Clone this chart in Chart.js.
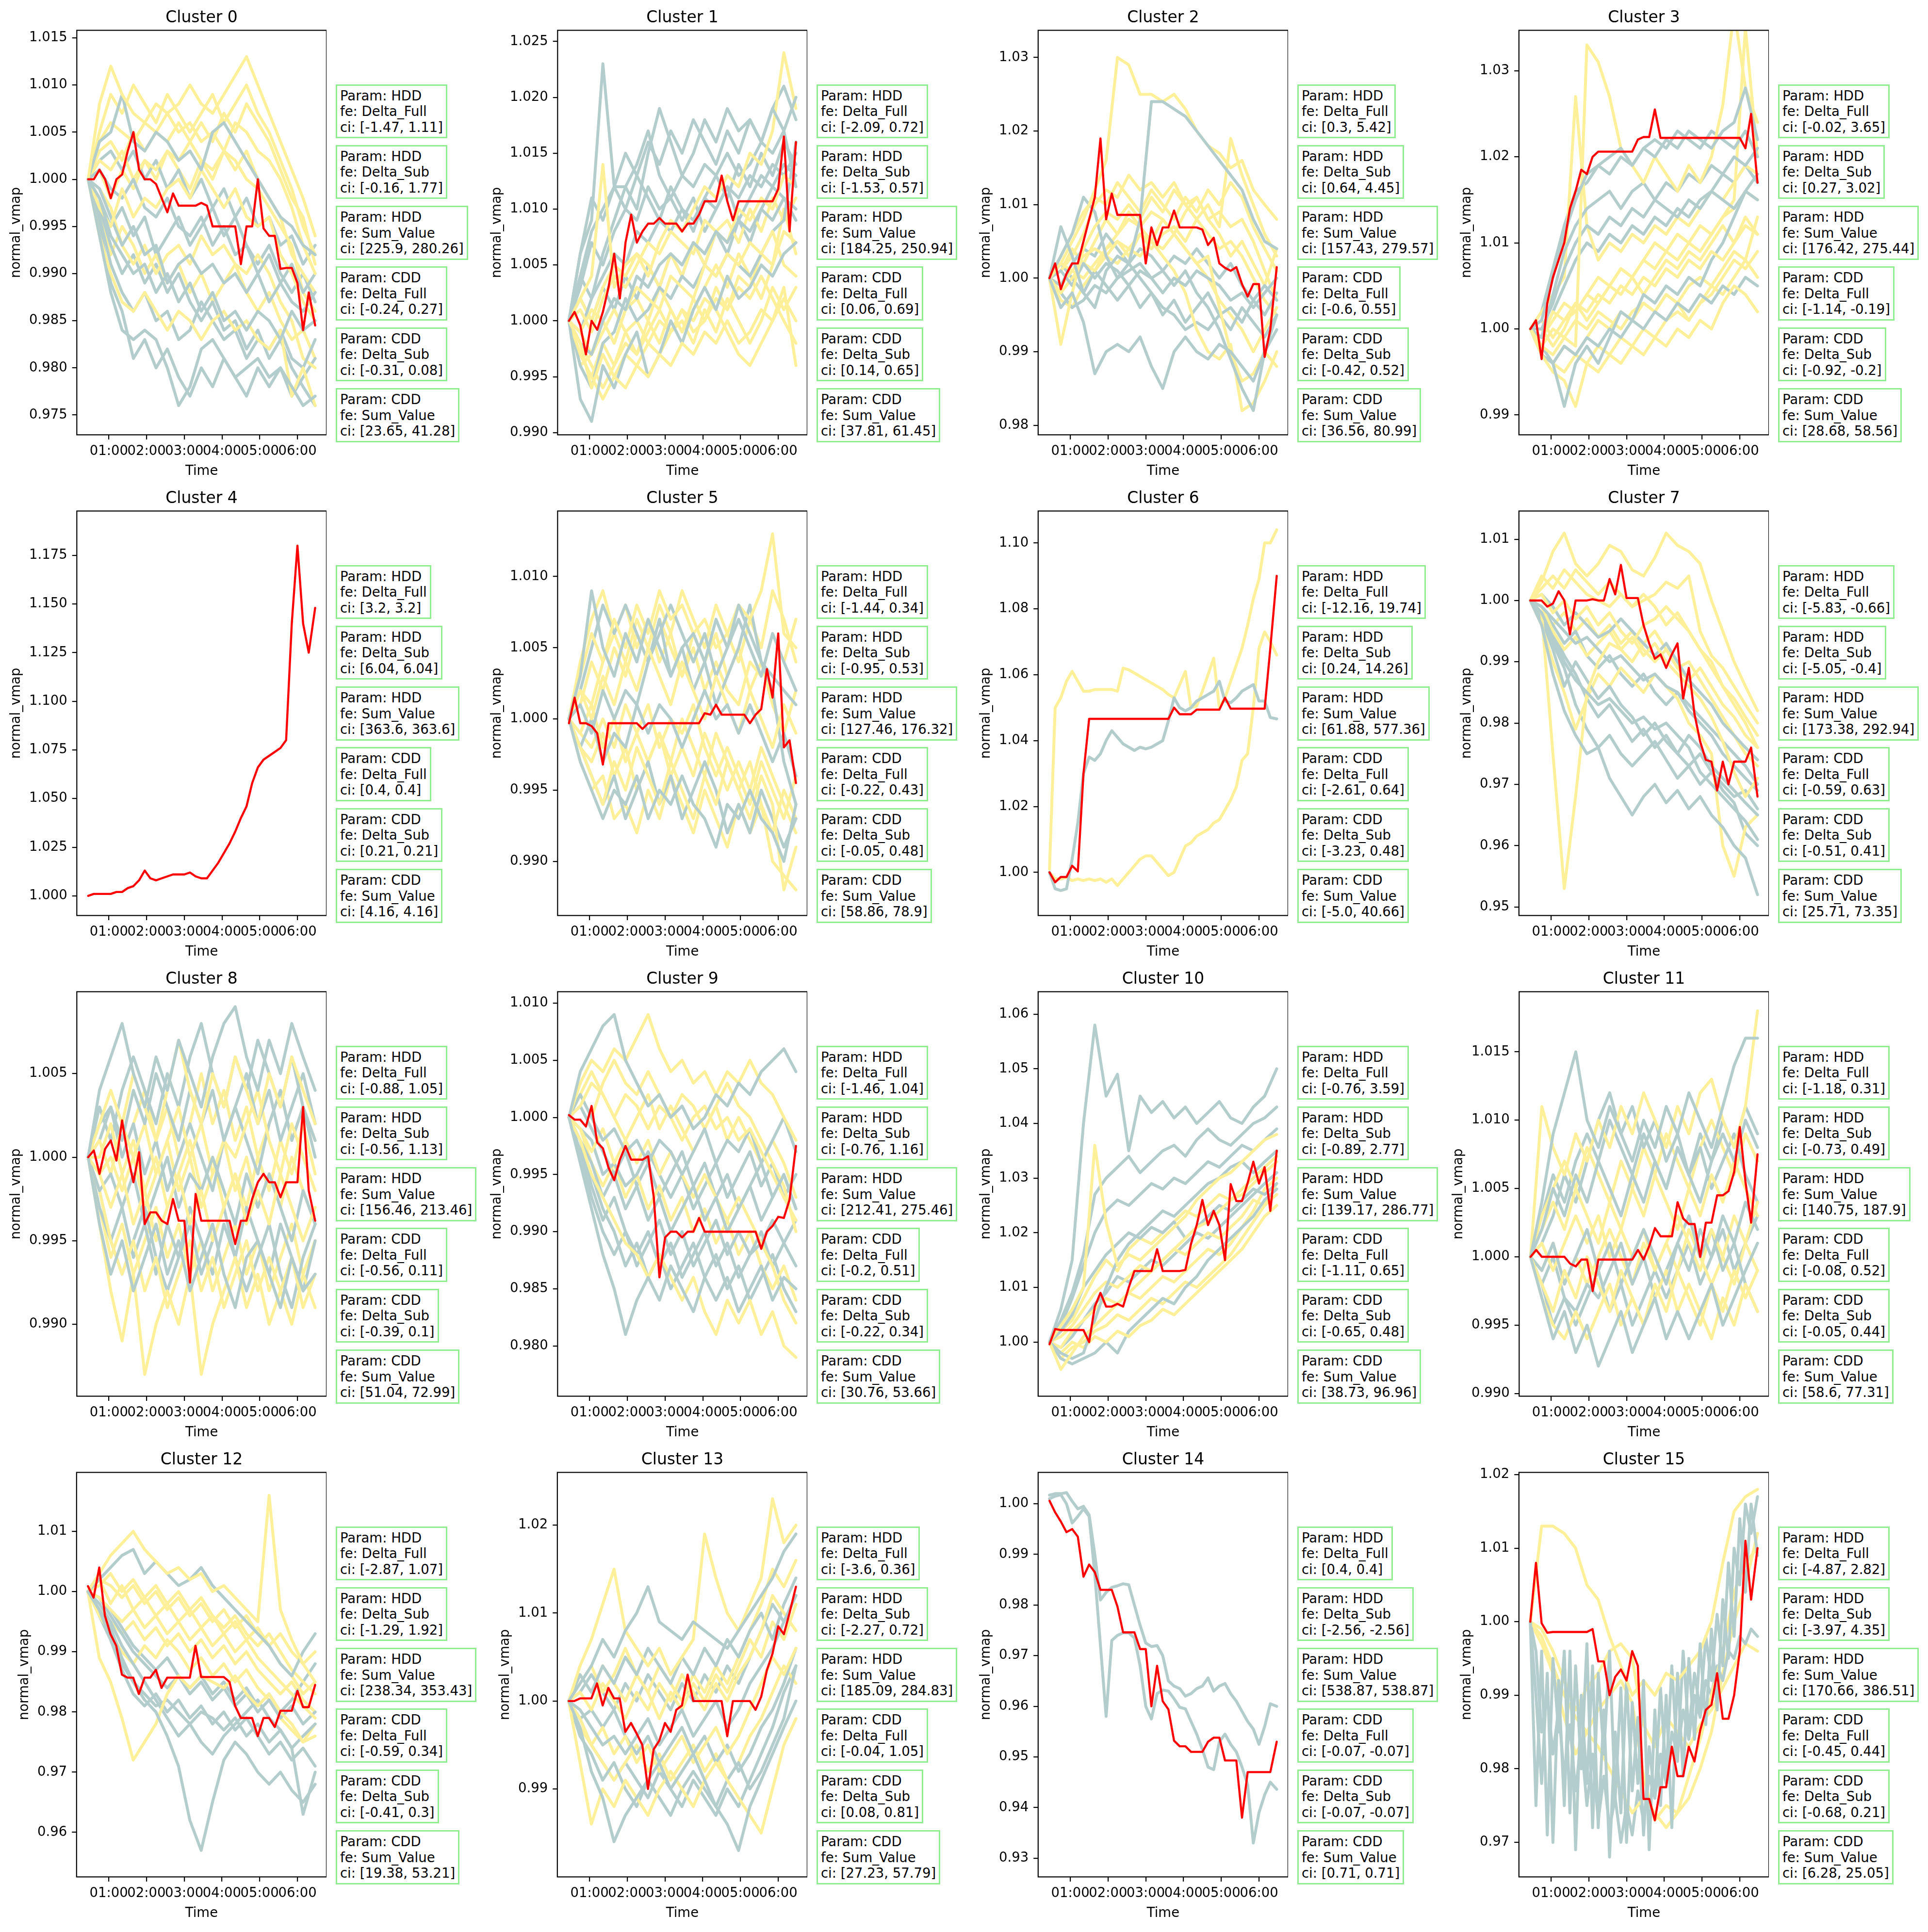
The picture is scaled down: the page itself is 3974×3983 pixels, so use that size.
<!DOCTYPE html>
<html lang="en">
<head>
<meta charset="UTF-8">
<title>normal_vmap by cluster</title>
<script src="https://cdn.jsdelivr.net/npm/chart.js"></script>
<style>
  body { margin: 0; background: #fff; }
  #fig { position: relative; width: 3974px; height: 3983px; overflow: hidden; background: #fff; font-family: 'DejaVu Sans', sans-serif; color: #000; }
  #fig canvas { position: absolute; }
  .ttl { position: absolute; height: 40px; line-height: 40px; font-size: 33px; text-align: center; white-space: nowrap; }
  .box { position: absolute; border: 3px solid #90ee90; padding: 4px 6px; font-size: 27.5px; line-height: 32.5px; white-space: pre; background: #fff; }
</style>
</head>
<body>
<div id="fig"></div>
<script>
// sample times (hours after midnight)
const tBg = [0.45, 0.75, 1.05, 1.35, 1.65, 1.95, 2.25, 2.55, 2.85, 3.15, 3.45, 3.75, 4.05, 4.35, 4.65, 4.95, 5.25, 5.55, 5.85, 6.15, 6.47];
const tRed = [0.45, 0.60, 0.75, 0.90, 1.05, 1.20, 1.35, 1.50, 1.65, 1.80, 1.95, 2.10, 2.25, 2.40, 2.55, 2.70, 2.85, 3.00, 3.15, 3.30,
  3.45, 3.60, 3.75, 3.90, 4.05, 4.20, 4.35, 4.50, 4.65, 4.80, 4.95, 5.10, 5.25, 5.40, 5.55, 5.70, 5.85, 6.00, 6.15, 6.30, 6.47];
const xTickVals = [1, 2, 3, 4, 5, 6];
const xTickLabels = ['01:00', '02:00', '03:00', '04:00', '05:00', '06:00'];

const yTicks = [
  ['0.975', '0.980', '0.985', '0.990', '0.995', '1.000', '1.005', '1.010', '1.015'],
  ['0.990', '0.995', '1.000', '1.005', '1.010', '1.015', '1.020', '1.025'],
  ['0.98', '0.99', '1.00', '1.01', '1.02', '1.03'],
  ['0.99', '1.00', '1.01', '1.02', '1.03'],
  ['1.000', '1.025', '1.050', '1.075', '1.100', '1.125', '1.150', '1.175'],
  ['0.990', '0.995', '1.000', '1.005', '1.010'],
  ['1.00', '1.02', '1.04', '1.06', '1.08', '1.10'],
  ['0.95', '0.96', '0.97', '0.98', '0.99', '1.00', '1.01'],
  ['0.990', '0.995', '1.000', '1.005'],
  ['0.980', '0.985', '0.990', '0.995', '1.000', '1.005', '1.010'],
  ['1.00', '1.01', '1.02', '1.03', '1.04', '1.05', '1.06'],
  ['0.990', '0.995', '1.000', '1.005', '1.010', '1.015'],
  ['0.96', '0.97', '0.98', '0.99', '1.00', '1.01'],
  ['0.99', '1.00', '1.01', '1.02'],
  ['0.93', '0.94', '0.95', '0.96', '0.97', '0.98', '0.99', '1.00'],
  ['0.97', '0.98', '0.99', '1.00', '1.01', '1.02']
];
const yMin = [0.9729, 0.9898, 0.9787, 0.9877, 0.9899, 0.9862, 0.9869, 0.9486, 0.9857, 0.9756, 0.9901, 0.9898, 0.9526, 0.9800, 0.9263, 0.9653];
const yMax = [1.0158, 1.0260, 1.0337, 1.0347, 1.1978, 1.0146, 1.1097, 1.0146, 1.0099, 1.0110, 1.0641, 1.0194, 1.0198, 1.0260, 1.0062, 1.0203];

// cluster 0
const red0 = [1.000, 1.000, 1.001, 1.000, 0.998, 1.000, 1.0005, 1.003, 1.005, 1.001, 1.000, 1.000, 0.9995, 0.998, 0.9965, 0.9985, 0.9972, 0.9972, 0.9972, 0.9972,
  0.9975, 0.9972, 0.995, 0.995, 0.995, 0.995, 0.995, 0.991, 0.995, 0.995, 1.000, 0.9948, 0.994, 0.994, 0.9905, 0.9906, 0.9906, 0.989, 0.984, 0.988, 0.9845];
const grey0 = [
  [1.000, 0.994, 0.988, 0.984, 0.983, 0.984, 0.983, 0.980, 0.976, 0.978, 0.982, 0.983, 0.981, 0.979, 0.980, 0.981, 0.979, 0.980, 0.978, 0.976, 0.977],
  [1.000, 1.004, 1.005, 1.009, 1.004, 1.003, 1.005, 1.004, 1.002, 1.003, 1.001, 1.005, 1.006, 1.004, 1.002, 1.000, 0.998, 0.996, 0.995, 0.993, 0.992],
  [1.000, 0.998, 0.994, 0.992, 0.990, 0.991, 0.988, 0.990, 0.987, 0.989, 0.986, 0.988, 0.985, 0.986, 0.984, 0.986, 0.985, 0.983, 0.986, 0.984, 0.985],
  [1.000, 1.001, 0.999, 0.998, 1.000, 0.997, 0.996, 0.998, 0.995, 0.994, 0.996, 0.993, 0.995, 0.992, 0.993, 0.990, 0.992, 0.989, 0.991, 0.988, 0.990],
  [1.000, 0.996, 0.991, 0.988, 0.986, 0.988, 0.985, 0.986, 0.983, 0.984, 0.987, 0.985, 0.983, 0.984, 0.981, 0.983, 0.982, 0.984, 0.981, 0.980, 0.983],
  [1.000, 0.999, 0.996, 0.993, 0.995, 0.992, 0.993, 0.989, 0.991, 0.992, 0.990, 0.991, 0.989, 0.990, 0.988, 0.990, 0.987, 0.989, 0.987, 0.986, 0.988],
  [1.000, 0.997, 0.993, 0.990, 0.992, 0.989, 0.991, 0.988, 0.990, 0.987, 0.985, 0.987, 0.984, 0.985, 0.982, 0.984, 0.981, 0.983, 0.980, 0.978, 0.976],
  [1.000, 1.002, 1.003, 1.001, 1.003, 1.000, 1.002, 0.999, 1.001, 0.998, 1.000, 0.997, 0.999, 0.996, 0.998, 0.995, 0.996, 0.993, 0.994, 0.991, 0.993],
  [1.000, 0.995, 0.989, 0.986, 0.981, 0.983, 0.980, 0.982, 0.979, 0.977, 0.980, 0.978, 0.981, 0.979, 0.977, 0.980, 0.978, 0.980, 0.977, 0.979, 0.981],
  [1.000, 0.998, 0.995, 0.997, 0.994, 0.996, 0.992, 0.994, 0.996, 0.993, 0.995, 0.997, 0.994, 0.996, 0.993, 0.991, 0.993, 0.990, 0.988, 0.990, 0.987]
];
const yellow0 = [
  [1.000, 1.008, 1.012, 1.009, 1.007, 1.006, 1.008, 1.007, 1.008, 1.010, 1.008, 1.007, 1.009, 1.011, 1.013, 1.010, 1.007, 1.004, 1.001, 0.998, 0.994],
  [1.000, 1.004, 1.006, 1.005, 1.004, 1.006, 1.005, 1.007, 1.005, 1.006, 1.004, 1.005, 1.003, 1.006, 1.005, 1.003, 1.002, 1.000, 0.997, 0.993, 0.990],
  [1.000, 0.997, 0.995, 0.999, 0.996, 0.998, 0.997, 0.999, 1.000, 0.998, 1.001, 0.999, 0.997, 0.999, 0.996, 0.995, 0.996, 0.992, 0.990, 0.987, 0.985],
  [1.000, 0.994, 0.990, 0.987, 0.986, 0.988, 0.986, 0.984, 0.986, 0.985, 0.983, 0.985, 0.986, 0.984, 0.985, 0.983, 0.982, 0.984, 0.977, 0.980, 0.976],
  [1.000, 1.002, 1.001, 1.003, 1.000, 1.002, 1.001, 1.003, 1.002, 1.004, 1.002, 1.001, 1.003, 1.002, 1.000, 0.999, 0.997, 0.995, 0.993, 0.988, 0.986],
  [1.000, 0.999, 0.997, 0.993, 0.991, 0.993, 0.990, 0.992, 0.993, 0.991, 0.994, 0.992, 0.993, 0.991, 0.990, 0.992, 0.990, 0.987, 0.985, 0.981, 0.980],
  [1.000, 1.005, 1.009, 1.007, 1.010, 1.008, 1.006, 1.009, 1.007, 1.005, 1.007, 1.009, 1.006, 1.008, 1.010, 1.007, 1.005, 1.002, 0.999, 0.995, 0.992],
  [1.000, 1.001, 0.998, 1.001, 0.999, 1.002, 1.000, 1.003, 1.001, 0.999, 1.002, 1.000, 1.003, 1.001, 1.003, 1.000, 0.998, 0.996, 0.992, 0.990, 0.988],
  [1.000, 0.996, 0.992, 0.995, 0.993, 0.990, 0.992, 0.989, 0.991, 0.988, 0.990, 0.987, 0.989, 0.991, 0.988, 0.986, 0.988, 0.985, 0.983, 0.984, 0.981],
  [1.000, 1.003, 1.004, 1.002, 1.005, 1.003, 1.005, 1.004, 1.006, 1.004, 1.006, 1.004, 1.007, 1.005, 1.008, 1.006, 1.004, 1.001, 0.998, 0.996, 0.991]
];

// cluster 1
const red1 = [1.000, 1.0008, 0.9996, 0.997, 1.000, 0.9992, 1.0008, 1.003, 1.006, 1.002, 1.007, 1.0095, 1.007, 1.008, 1.0087, 1.0087, 1.0092, 1.0087, 1.0087, 1.0087,
  1.008, 1.0087, 1.0087, 1.0095, 1.0107, 1.0107, 1.0107, 1.013, 1.0107, 1.009, 1.0107, 1.0107, 1.0107, 1.0107, 1.0107, 1.0107, 1.0107, 1.0118, 1.0165, 1.008, 1.016];
const grey1 = [
  [1.000, 1.006, 1.009, 1.023, 1.012, 1.012, 1.010, 1.015, 1.019, 1.016, 1.013, 1.015, 1.018, 1.016, 1.019, 1.017, 1.018, 1.016, 1.019, 1.017, 1.020],
  [1.000, 0.993, 0.991, 0.996, 0.994, 0.997, 0.999, 0.995, 0.997, 1.000, 0.998, 1.001, 1.003, 1.001, 1.004, 1.002, 1.003, 1.005, 1.004, 1.006, 1.007],
  [1.000, 1.003, 1.007, 1.005, 1.008, 1.010, 1.009, 1.012, 1.010, 1.011, 1.013, 1.012, 1.014, 1.013, 1.015, 1.013, 1.014, 1.016, 1.015, 1.017, 1.012],
  [1.000, 0.998, 0.997, 1.000, 1.002, 1.001, 1.004, 1.003, 1.005, 1.006, 1.005, 1.007, 1.006, 1.008, 1.007, 1.009, 1.008, 1.010, 1.009, 1.011, 1.010],
  [1.000, 1.004, 1.002, 1.006, 1.009, 1.012, 1.014, 1.017, 1.013, 1.011, 1.009, 1.011, 1.008, 1.010, 1.012, 1.009, 1.011, 1.013, 1.012, 1.014, 1.013],
  [1.000, 0.996, 0.994, 0.998, 0.999, 1.002, 1.000, 1.001, 1.003, 1.002, 1.004, 1.003, 1.005, 1.004, 1.006, 1.005, 1.004, 1.006, 1.008, 1.009, 1.016],
  [1.000, 1.004, 1.008, 1.010, 1.012, 1.015, 1.013, 1.016, 1.014, 1.017, 1.015, 1.018, 1.016, 1.014, 1.017, 1.015, 1.018, 1.016, 1.019, 1.021, 1.018],
  [1.000, 0.999, 1.002, 1.004, 1.006, 1.005, 1.008, 1.007, 1.009, 1.008, 1.010, 1.009, 1.011, 1.010, 1.012, 1.011, 1.013, 1.012, 1.014, 1.013, 1.015],
  [1.000, 1.002, 1.000, 1.003, 1.001, 1.004, 1.002, 1.005, 1.003, 1.006, 1.004, 1.007, 1.005, 1.008, 1.006, 1.009, 1.007, 1.010, 1.012, 1.011, 1.009],
  [1.000, 1.006, 1.011, 1.009, 1.012, 1.010, 1.013, 1.011, 1.009, 1.012, 1.010, 1.008, 1.011, 1.013, 1.011, 1.014, 1.012, 1.015, 1.013, 1.016, 1.014]
];
const yellow1 = [
  [1.000, 0.998, 0.994, 0.997, 0.995, 0.994, 0.996, 0.995, 0.997, 0.996, 0.998, 0.997, 0.999, 0.998, 1.000, 0.998, 0.999, 1.001, 1.000, 1.002, 1.000],
  [1.000, 1.002, 1.004, 1.014, 1.003, 1.005, 1.006, 1.004, 1.007, 1.009, 1.008, 1.010, 1.012, 1.011, 1.013, 1.012, 1.015, 1.014, 1.017, 1.024, 1.019],
  [1.000, 0.997, 0.995, 0.993, 0.995, 0.997, 0.996, 0.998, 0.997, 0.999, 1.001, 1.000, 1.002, 1.001, 0.999, 0.997, 0.996, 0.998, 1.000, 1.003, 0.996],
  [1.000, 1.001, 0.999, 1.002, 1.004, 1.003, 1.005, 1.007, 1.006, 1.008, 1.007, 1.006, 1.009, 1.008, 1.007, 1.010, 1.009, 1.011, 1.010, 1.013, 1.012],
  [1.000, 0.999, 1.001, 1.000, 0.998, 1.001, 1.003, 1.002, 1.001, 1.004, 1.003, 1.002, 1.005, 1.004, 1.006, 1.005, 1.007, 1.006, 1.008, 1.005, 1.004],
  [1.000, 0.996, 0.997, 0.999, 1.001, 0.999, 1.000, 0.998, 1.000, 0.999, 1.001, 0.999, 1.000, 1.002, 1.001, 1.003, 1.002, 1.004, 1.002, 1.000, 0.998],
  [1.000, 0.997, 0.995, 0.998, 0.996, 0.999, 0.997, 1.000, 0.998, 1.001, 0.999, 1.002, 1.000, 1.003, 1.001, 1.004, 1.003, 1.006, 1.005, 1.008, 1.007],
  [1.000, 1.002, 1.000, 1.003, 1.005, 1.004, 1.006, 1.005, 1.003, 1.006, 1.004, 1.007, 1.005, 1.008, 1.009, 1.007, 1.010, 1.008, 1.011, 1.009, 1.011],
  [1.000, 0.998, 0.996, 0.994, 0.996, 0.998, 0.997, 0.999, 1.001, 0.999, 1.000, 0.998, 1.001, 0.999, 1.002, 1.000, 0.998, 1.000, 1.003, 1.001, 1.003],
  [1.000, 0.999, 0.997, 1.000, 0.998, 1.001, 1.002, 1.000, 1.003, 1.001, 0.999, 1.001, 1.003, 1.005, 1.003, 1.006, 1.004, 1.002, 1.005, 1.010, 1.006]
];

// cluster 2
const red2 = [1.000, 1.002, 0.9985, 1.0006, 1.002, 1.002, 1.005, 1.008, 1.011, 1.019, 1.008, 1.0115, 1.0086, 1.0086, 1.0086, 1.0086, 1.0086, 1.002, 1.0069, 1.0045,
  1.0069, 1.0069, 1.0092, 1.0069, 1.0069, 1.0069, 1.0069, 1.0066, 1.0045, 1.0055, 1.002, 1.0014, 1.001, 1.0015, 0.9992, 0.9975, 0.9992, 0.9992, 0.9893, 0.993, 1.0015];
const grey2 = [
  [1.000, 1.007, 1.003, 0.998, 0.996, 1.001, 1.003, 1.002, 1.008, 1.024, 1.024, 1.023, 1.022, 1.020, 1.018, 1.016, 1.014, 1.012, 1.008, 1.005, 1.004],
  [1.000, 0.996, 0.998, 0.994, 0.987, 0.990, 0.991, 0.990, 0.992, 0.988, 0.985, 0.990, 0.992, 0.990, 0.989, 0.991, 0.990, 0.988, 0.986, 0.990, 0.995],
  [1.000, 1.003, 1.006, 1.011, 1.009, 1.003, 1.000, 1.001, 1.002, 1.000, 1.001, 0.999, 1.001, 0.998, 0.996, 0.993, 0.989, 0.985, 0.982, 0.990, 0.993],
  [1.000, 1.001, 0.999, 1.002, 1.000, 1.002, 1.001, 0.999, 1.001, 1.000, 0.998, 1.000, 0.999, 1.001, 1.000, 0.999, 0.997, 0.998, 0.996, 0.998, 1.000],
  [1.000, 0.998, 0.996, 0.997, 0.999, 0.998, 1.000, 1.002, 1.000, 0.998, 0.996, 0.995, 0.993, 0.994, 0.993, 0.995, 0.996, 0.994, 0.997, 0.999, 0.997],
  [1.000, 0.999, 1.002, 1.004, 1.003, 1.006, 1.004, 1.002, 1.004, 1.003, 1.001, 1.003, 1.002, 1.004, 1.002, 1.000, 1.002, 0.999, 0.997, 0.995, 0.998],
  [1.000, 1.002, 1.000, 0.998, 1.001, 0.999, 0.997, 0.999, 0.996, 0.998, 0.995, 0.997, 0.994, 0.996, 0.998, 0.995, 0.993, 0.996, 0.994, 0.992, 0.995]
];
const yellow2 = [
  [1.000, 1.002, 1.005, 1.008, 1.012, 1.016, 1.030, 1.029, 1.025, 1.025, 1.024, 1.025, 1.023, 1.020, 1.018, 1.017, 1.015, 1.016, 1.012, 1.010, 1.008],
  [1.000, 0.991, 0.998, 1.004, 1.007, 1.009, 1.008, 1.010, 1.008, 1.011, 1.009, 1.012, 1.010, 1.008, 1.010, 1.007, 1.019, 1.014, 1.010, 1.006, 1.003],
  [1.000, 1.002, 1.001, 1.003, 1.004, 1.003, 1.005, 1.004, 1.006, 1.005, 1.004, 1.006, 1.004, 1.002, 1.003, 0.996, 0.990, 0.986, 0.987, 0.990, 0.988],
  [1.000, 0.998, 1.000, 1.002, 1.001, 1.003, 1.002, 1.004, 1.003, 1.005, 1.003, 1.001, 0.998, 0.993, 0.990, 0.989, 0.991, 0.982, 0.983, 0.986, 0.990],
  [1.000, 1.001, 1.003, 1.006, 1.010, 1.012, 1.011, 1.014, 1.012, 1.013, 1.011, 1.013, 1.010, 1.011, 1.008, 1.009, 1.007, 1.008, 1.005, 1.001, 0.997],
  [1.000, 0.999, 1.001, 1.000, 1.002, 1.004, 1.005, 1.003, 1.006, 1.004, 1.006, 1.007, 1.005, 1.008, 1.006, 1.004, 1.005, 1.003, 1.000, 0.997, 0.995],
  [1.000, 1.003, 1.006, 1.009, 1.011, 1.010, 1.013, 1.011, 1.009, 1.012, 1.010, 1.008, 1.011, 1.009, 1.012, 1.010, 1.013, 1.011, 1.007, 1.004, 1.001],
  [1.000, 0.997, 0.996, 0.999, 1.001, 1.004, 1.006, 1.008, 1.007, 1.009, 1.008, 1.006, 1.004, 1.002, 1.000, 0.997, 0.995, 0.993, 0.990, 0.993, 0.996],
  [1.000, 1.001, 1.004, 1.002, 1.005, 1.008, 1.006, 1.009, 1.007, 1.005, 1.008, 1.006, 1.009, 1.011, 1.008, 1.006, 1.003, 1.005, 1.002, 0.999, 1.004]
];

// cluster 3
const red3 = [1.000, 1.001, 0.9965, 1.003, 1.006, 1.008, 1.010, 1.014, 1.016, 1.0185, 1.018, 1.020, 1.0206, 1.0206, 1.0206, 1.0206, 1.0206, 1.0206, 1.0206, 1.022,
  1.0223, 1.0223, 1.0255, 1.0222, 1.0222, 1.0222, 1.0222, 1.0222, 1.0222, 1.0222, 1.0222, 1.0222, 1.0222, 1.0222, 1.0222, 1.0222, 1.0222, 1.0222, 1.021, 1.025, 1.017];
const grey3 = [
  [1.000, 1.001, 1.006, 1.011, 1.015, 1.018, 1.019, 1.020, 1.021, 1.019, 1.021, 1.020, 1.022, 1.021, 1.023, 1.022, 1.021, 1.023, 1.024, 1.028, 1.022],
  [1.000, 0.999, 1.004, 1.009, 1.012, 1.014, 1.015, 1.016, 1.014, 1.016, 1.017, 1.015, 1.017, 1.016, 1.018, 1.017, 1.019, 1.018, 1.020, 1.019, 1.021],
  [1.000, 0.998, 0.996, 0.991, 0.996, 0.998, 0.996, 0.999, 1.002, 1.001, 1.004, 1.003, 1.005, 1.004, 1.006, 1.005, 1.008, 1.010, 1.013, 1.016, 1.018],
  [1.000, 1.000, 1.003, 1.007, 1.010, 1.012, 1.011, 1.013, 1.012, 1.014, 1.013, 1.015, 1.014, 1.013, 1.015, 1.014, 1.016, 1.015, 1.014, 1.016, 1.015],
  [1.000, 0.997, 0.996, 0.998, 0.997, 0.999, 0.998, 1.000, 0.999, 1.001, 1.000, 1.002, 1.001, 1.003, 1.002, 1.004, 1.003, 1.005, 1.004, 1.006, 1.005],
  [1.000, 1.002, 1.007, 1.012, 1.016, 1.017, 1.019, 1.018, 1.020, 1.019, 1.021, 1.022, 1.021, 1.023, 1.022, 1.021, 1.023, 1.022, 1.021, 1.023, 1.020],
  [1.000, 0.999, 1.002, 1.005, 1.008, 1.010, 1.009, 1.011, 1.010, 1.012, 1.011, 1.013, 1.012, 1.014, 1.013, 1.015, 1.016, 1.018, 1.017, 1.019, 1.017]
];
const yellow3 = [
  [1.000, 0.998, 0.997, 0.999, 0.998, 1.033, 1.031, 1.027, 1.021, 1.019, 1.017, 1.020, 1.018, 1.016, 1.019, 1.017, 1.020, 1.026, 1.037, 1.028, 1.024],
  [1.000, 0.999, 1.002, 1.001, 1.003, 1.002, 1.004, 1.003, 1.005, 1.004, 1.006, 1.005, 1.007, 1.006, 1.008, 1.007, 1.009, 1.008, 1.010, 1.012, 1.011],
  [1.000, 0.997, 0.995, 0.994, 0.991, 0.996, 0.995, 0.997, 0.996, 0.998, 0.997, 0.999, 0.998, 1.000, 0.999, 1.001, 1.000, 1.003, 1.005, 1.004, 1.002],
  [1.000, 1.002, 1.004, 1.006, 1.027, 1.012, 1.008, 1.010, 1.009, 1.011, 1.010, 1.012, 1.011, 1.013, 1.012, 1.014, 1.016, 1.015, 1.017, 1.019, 1.018],
  [1.000, 0.998, 1.000, 0.999, 1.001, 1.000, 1.002, 1.001, 1.000, 1.002, 1.003, 1.002, 1.004, 1.003, 1.001, 1.003, 1.005, 1.004, 1.006, 1.008, 1.013],
  [1.000, 1.001, 0.999, 1.001, 1.002, 1.004, 1.003, 1.005, 1.007, 1.006, 1.008, 1.007, 1.009, 1.008, 1.010, 1.009, 1.011, 1.013, 1.015, 1.035, 1.020],
  [1.000, 0.999, 1.001, 1.003, 1.002, 1.004, 1.006, 1.005, 1.007, 1.006, 1.008, 1.010, 1.009, 1.011, 1.010, 1.012, 1.011, 1.013, 1.014, 1.016, 1.015],
  [1.000, 0.998, 0.996, 0.998, 0.997, 0.999, 1.001, 1.000, 1.002, 1.001, 1.003, 1.002, 1.004, 1.003, 1.005, 1.006, 1.005, 1.007, 1.009, 1.008, 1.006],
  [1.000, 1.000, 0.998, 1.000, 1.003, 1.001, 1.003, 1.005, 1.004, 1.006, 1.004, 1.006, 1.008, 1.007, 1.009, 1.008, 1.010, 1.012, 1.010, 1.013, 1.011],
  [1.000, 0.997, 0.996, 0.995, 0.997, 0.996, 0.998, 0.997, 0.999, 0.998, 1.000, 0.999, 1.001, 1.002, 1.001, 1.003, 1.004, 1.006, 1.008, 1.007, 1.009]
];

// cluster 4
const red4 = [1.000, 1.001, 1.001, 1.001, 1.001, 1.002, 1.002, 1.004, 1.005, 1.008, 1.013, 1.009, 1.008, 1.009, 1.010, 1.011, 1.011, 1.011, 1.012, 1.010,
  1.009, 1.009, 1.013, 1.017, 1.022, 1.027, 1.033, 1.040, 1.046, 1.058, 1.066, 1.070, 1.072, 1.074, 1.076, 1.080, 1.140, 1.180, 1.140, 1.125, 1.148];
const grey4 = [];
const yellow4 = [];

// cluster 5
const red5 = [0.9997, 1.0015, 0.9997, 0.9997, 0.9995, 0.999, 0.9968, 0.9997, 0.9997, 0.9997, 0.9997, 0.9997, 0.9997, 0.9993, 0.9997, 0.9997, 0.9997, 0.9997, 0.9997, 0.9997,
  0.9997, 0.9997, 0.9997, 0.9997, 1.0004, 1.0003, 1.001, 1.0003, 1.0003, 1.0003, 1.0003, 1.0003, 0.9997, 1.0003, 1.0007, 1.0035, 1.0015, 1.006, 0.998, 0.9985, 0.9955];
const grey5 = [
  [1.000, 1.003, 1.009, 1.005, 1.003, 1.006, 1.004, 1.007, 1.005, 1.003, 1.005, 1.006, 1.004, 1.007, 1.005, 1.008, 1.006, 1.004, 1.003, 1.002, 1.001],
  [1.000, 0.997, 0.995, 0.993, 0.995, 0.994, 0.996, 0.993, 0.995, 0.994, 0.996, 0.994, 0.993, 0.991, 0.994, 0.993, 0.995, 0.993, 0.992, 0.990, 0.994],
  [1.000, 1.001, 0.999, 1.002, 1.000, 1.002, 1.001, 0.999, 1.001, 1.000, 0.998, 1.000, 1.002, 1.000, 1.001, 0.999, 1.001, 0.999, 0.997, 0.999, 0.996],
  [1.000, 0.998, 1.000, 0.997, 0.999, 0.998, 1.001, 1.004, 1.007, 1.003, 1.005, 1.002, 1.004, 1.001, 1.003, 1.005, 1.008, 1.004, 1.002, 0.997, 0.994],
  [1.000, 1.002, 1.005, 1.008, 1.006, 1.008, 1.006, 1.004, 1.006, 1.008, 1.006, 1.004, 1.006, 1.003, 1.005, 1.007, 1.005, 1.003, 1.006, 1.004, 1.002],
  [1.000, 0.998, 0.996, 0.994, 0.996, 0.993, 0.995, 0.997, 0.994, 0.996, 0.993, 0.995, 0.997, 0.995, 0.992, 0.994, 0.992, 0.995, 0.993, 0.991, 0.993]
];
const yellow5 = [
  [1.000, 1.003, 1.006, 1.004, 1.007, 1.005, 1.008, 1.006, 1.009, 1.007, 1.008, 1.006, 1.007, 1.005, 1.006, 1.008, 1.007, 1.009, 1.013, 1.006, 1.005],
  [1.000, 0.998, 0.996, 0.994, 0.997, 0.995, 0.998, 0.996, 0.994, 0.997, 0.995, 0.993, 0.996, 0.994, 0.997, 0.995, 0.993, 0.996, 0.994, 0.988, 0.991],
  [1.000, 1.002, 1.000, 1.003, 1.001, 1.004, 1.002, 1.005, 1.003, 1.001, 1.004, 1.002, 1.000, 1.003, 1.001, 0.999, 1.002, 1.000, 0.998, 1.001, 0.999],
  [1.000, 0.999, 1.001, 0.998, 1.000, 0.997, 0.999, 1.001, 0.998, 1.000, 0.999, 1.001, 0.998, 0.996, 0.998, 0.996, 0.994, 0.997, 0.995, 0.993, 0.996],
  [1.000, 1.004, 1.007, 1.009, 1.006, 1.008, 1.005, 1.007, 1.004, 1.006, 1.003, 1.005, 1.002, 1.004, 1.002, 1.001, 1.004, 1.003, 1.006, 1.004, 1.007],
  [1.000, 0.997, 0.995, 0.996, 0.993, 0.994, 0.992, 0.995, 0.993, 0.996, 0.994, 0.992, 0.995, 0.993, 0.991, 0.994, 0.992, 0.994, 0.990, 0.989, 0.988],
  [1.000, 1.001, 1.004, 1.002, 1.005, 1.003, 1.006, 1.004, 1.007, 1.005, 1.003, 1.006, 1.004, 1.006, 1.003, 1.005, 1.002, 1.004, 1.001, 0.999, 1.002],
  [1.000, 0.998, 0.997, 0.999, 0.996, 0.998, 0.995, 0.997, 0.999, 0.996, 0.998, 0.996, 0.999, 0.997, 0.995, 0.997, 0.995, 0.998, 0.996, 0.994, 0.992],
  [1.000, 1.002, 1.001, 1.004, 1.006, 1.004, 1.007, 1.005, 1.008, 1.006, 1.009, 1.007, 1.005, 1.008, 1.006, 1.004, 1.007, 1.005, 1.009, 1.007, 1.004],
  [1.000, 0.999, 0.998, 1.000, 0.998, 1.001, 0.999, 0.997, 0.999, 0.997, 1.000, 0.998, 0.996, 0.999, 0.997, 0.995, 0.997, 0.994, 0.992, 0.995, 0.993]
];

// cluster 6 (sparse, sampled on the fine grid)
const red6 = [1.000, 0.997, 0.9986, 0.9986, 1.002, 1.0003, 1.030, 1.0466, 1.0466, 1.0466, 1.0466, 1.0466, 1.0466, 1.0466, 1.0466, 1.0466, 1.0466, 1.0466, 1.0466, 1.0466,
  1.0466, 1.0466, 1.050, 1.048, 1.048, 1.048, 1.0494, 1.0494, 1.0494, 1.0494, 1.0494, 1.053, 1.0497, 1.0497, 1.0497, 1.0497, 1.0497, 1.0497, 1.0497, 1.068, 1.090];
const grey6 = [
  [1.000, 0.995, 0.9945, 0.995, 1.004, 1.015, 1.030, 1.035, 1.034, 1.036, 1.040, 1.043, 1.041, 1.039, 1.038, 1.037, 1.038, 1.0375, 1.038, 1.039,
    1.040, 1.046, 1.053, 1.050, 1.049, 1.050, 1.052, 1.053, 1.054, 1.055, 1.058, 1.052, 1.0515, 1.053, 1.055, 1.056, 1.057, 1.052, 1.052, 1.047, 1.0466]
];
const yellow6 = [
  [1.001, 1.050, 1.053, 1.058, 1.061, 1.058, 1.055, 1.055, 1.0555, 1.0555, 1.0555, 1.0555, 1.055, 1.062, 1.0615, 1.0605, 1.0595, 1.0585, 1.0575, 1.0565,
    1.0555, 1.054, 1.053, 1.057, 1.061, 1.050, 1.0505, 1.055, 1.060, 1.065, 1.050, 1.053, 1.058, 1.063, 1.068, 1.075, 1.083, 1.089, 1.100, 1.100, 1.104],
  [1.000, 0.998, 0.998, 0.9985, 0.9975, 0.998, 0.9975, 0.998, 0.9975, 0.998, 0.997, 0.998, 0.996, 0.998, 1.000, 1.002, 1.004, 1.005, 1.005, 1.003,
    1.001, 0.999, 1.000, 1.004, 1.008, 1.009, 1.011, 1.012, 1.013, 1.015, 1.016, 1.019, 1.022, 1.026, 1.034, 1.036, 1.050, 1.068, 1.073, 1.070, 1.066]
];

// cluster 7
const red7 = [1.000, 1.000, 1.000, 0.999, 0.9995, 1.0015, 1.000, 0.9945, 1.000, 1.000, 1.000, 1.0002, 1.000, 1.000, 1.0035, 1.001, 1.0058, 1.0004, 1.0004, 1.0004,
  0.996, 0.993, 0.9905, 0.9912, 0.989, 0.9912, 0.993, 0.984, 0.989, 0.9815, 0.977, 0.974, 0.9737, 0.969, 0.9737, 0.970, 0.9737, 0.9737, 0.9737, 0.976, 0.968];
const grey7 = [
  [1.000, 0.996, 0.988, 0.982, 0.978, 0.975, 0.976, 0.971, 0.968, 0.965, 0.968, 0.970, 0.967, 0.969, 0.966, 0.968, 0.965, 0.963, 0.960, 0.958, 0.952],
  [1.000, 0.998, 0.994, 0.990, 0.987, 0.985, 0.983, 0.984, 0.982, 0.980, 0.981, 0.979, 0.980, 0.978, 0.976, 0.972, 0.970, 0.968, 0.966, 0.964, 0.961],
  [1.000, 0.999, 0.997, 0.995, 0.993, 0.994, 0.992, 0.990, 0.991, 0.989, 0.987, 0.988, 0.986, 0.985, 0.983, 0.981, 0.979, 0.977, 0.975, 0.973, 0.970],
  [1.000, 0.997, 0.992, 0.986, 0.990, 0.987, 0.984, 0.986, 0.983, 0.981, 0.978, 0.980, 0.977, 0.975, 0.978, 0.976, 0.973, 0.971, 0.969, 0.967, 0.965],
  [1.000, 1.001, 0.999, 0.996, 0.998, 0.996, 0.994, 0.995, 0.997, 0.995, 0.993, 0.991, 0.993, 0.990, 0.987, 0.985, 0.983, 0.980, 0.978, 0.976, 0.974],
  [1.000, 0.997, 0.993, 0.989, 0.983, 0.979, 0.976, 0.978, 0.975, 0.973, 0.975, 0.977, 0.974, 0.971, 0.973, 0.970, 0.972, 0.969, 0.967, 0.962, 0.960],
  [1.000, 0.998, 0.995, 0.991, 0.988, 0.984, 0.981, 0.983, 0.980, 0.977, 0.979, 0.976, 0.978, 0.975, 0.973, 0.975, 0.972, 0.970, 0.968, 0.969, 0.966],
  [1.000, 0.999, 0.996, 0.993, 0.995, 0.991, 0.989, 0.991, 0.988, 0.986, 0.988, 0.985, 0.983, 0.985, 0.982, 0.980, 0.978, 0.975, 0.973, 0.971, 0.969]
];
const yellow7 = [
  [1.000, 1.003, 1.008, 1.011, 1.006, 1.004, 1.006, 1.009, 1.008, 1.005, 1.004, 1.007, 1.011, 1.009, 1.008, 1.006, 1.000, 0.995, 0.990, 0.986, 0.982],
  [1.000, 0.998, 0.975, 0.953, 0.968, 0.985, 0.990, 0.993, 0.992, 0.994, 0.991, 0.993, 0.990, 0.988, 0.986, 0.984, 0.981, 0.977, 0.972, 0.968, 0.971],
  [1.000, 1.001, 0.998, 1.000, 0.997, 0.999, 0.996, 0.998, 0.995, 0.993, 0.996, 0.997, 0.999, 0.997, 0.995, 0.992, 0.990, 0.986, 0.983, 0.980, 0.976],
  [1.000, 0.996, 0.990, 0.985, 0.979, 0.984, 0.988, 0.986, 0.989, 0.987, 0.985, 0.988, 0.986, 0.984, 0.980, 0.978, 0.975, 0.960, 0.955, 0.963, 0.965],
  [1.000, 1.004, 1.002, 1.005, 1.003, 1.001, 1.000, 0.999, 1.001, 0.999, 1.000, 1.001, 1.003, 1.002, 1.004, 0.995, 0.991, 0.989, 0.986, 0.983, 0.980],
  [1.000, 0.999, 0.995, 0.992, 0.994, 0.991, 0.993, 0.995, 0.992, 0.990, 0.993, 0.995, 0.992, 0.989, 0.990, 0.987, 0.984, 0.981, 0.978, 0.975, 0.973],
  [1.000, 1.002, 1.004, 1.002, 1.005, 1.003, 1.001, 1.003, 1.001, 0.999, 1.001, 0.999, 0.996, 0.998, 0.995, 0.992, 0.989, 0.986, 0.984, 0.981, 0.978],
  [1.000, 0.998, 0.996, 0.998, 0.995, 0.997, 0.994, 0.996, 0.993, 0.995, 0.992, 0.990, 0.992, 0.989, 0.987, 0.989, 0.986, 0.983, 0.981, 0.978, 0.976]
];

// cluster 8
const red8 = [1.000, 1.0004, 0.999, 1.0005, 1.001, 0.9998, 1.0022, 1.0001, 0.9985, 1.0003, 0.996, 0.9967, 0.9967, 0.9962, 0.996, 0.9975, 0.9962, 0.9962, 0.9925, 0.9978,
  0.9962, 0.9962, 0.9962, 0.9962, 0.9962, 0.9962, 0.9948, 0.9962, 0.9962, 0.9975, 0.9985, 0.999, 0.9985, 0.9985, 0.9976, 0.9985, 0.9985, 0.9985, 1.003, 0.998, 0.9962];
const grey8 = [
  [1.000, 1.004, 1.006, 1.008, 1.005, 1.003, 1.006, 1.004, 1.007, 1.005, 1.003, 1.006, 1.008, 1.009, 1.006, 1.004, 1.007, 1.005, 1.008, 1.006, 1.004],
  [1.000, 0.996, 0.993, 0.995, 0.992, 0.994, 0.996, 0.993, 0.995, 0.992, 0.994, 0.996, 0.993, 0.991, 0.994, 0.995, 0.993, 0.991, 0.994, 0.992, 0.993],
  [1.000, 1.002, 1.003, 1.001, 1.004, 1.002, 1.005, 1.003, 1.001, 1.004, 1.002, 1.004, 1.001, 1.003, 1.005, 1.002, 1.004, 1.001, 1.003, 1.005, 1.002],
  [1.000, 0.998, 0.999, 0.997, 0.999, 0.996, 0.998, 1.000, 0.997, 0.999, 0.998, 1.000, 0.998, 0.996, 0.999, 0.997, 0.999, 0.997, 0.995, 0.998, 0.996],
  [1.000, 1.001, 1.003, 1.000, 1.002, 0.999, 1.001, 0.998, 1.000, 1.002, 1.000, 0.998, 1.001, 1.003, 1.001, 0.999, 1.002, 1.004, 1.001, 1.003, 1.000],
  [1.000, 0.997, 0.995, 0.997, 0.994, 0.996, 0.993, 0.996, 0.994, 0.997, 0.995, 0.993, 0.996, 0.994, 0.997, 0.995, 0.993, 0.996, 0.994, 0.992, 0.995],
  [1.000, 1.003, 1.001, 1.004, 1.006, 1.004, 1.002, 1.005, 1.003, 1.006, 1.008, 1.005, 1.003, 1.006, 1.004, 1.007, 1.005, 1.003, 1.006, 1.003, 1.001],
  [1.000, 0.998, 0.995, 0.993, 0.995, 0.997, 0.994, 0.992, 0.994, 0.996, 0.993, 0.995, 0.997, 0.994, 0.992, 0.994, 0.996, 0.993, 0.991, 0.994, 0.996]
];
const yellow8 = [
  [1.000, 1.002, 1.004, 1.002, 1.005, 1.003, 1.001, 1.004, 1.007, 1.004, 1.002, 1.005, 1.003, 1.006, 1.004, 1.002, 1.005, 1.003, 1.006, 1.004, 1.002],
  [1.000, 0.996, 0.992, 0.989, 0.993, 0.987, 0.990, 0.992, 0.990, 0.993, 0.987, 0.990, 0.992, 0.994, 0.991, 0.993, 0.990, 0.992, 0.994, 0.991, 0.993],
  [1.000, 0.999, 0.997, 0.999, 0.996, 0.998, 0.995, 0.997, 0.999, 0.996, 0.998, 0.995, 0.997, 0.999, 0.996, 0.998, 0.996, 0.999, 0.997, 0.995, 0.997],
  [1.000, 1.001, 0.999, 1.002, 1.000, 1.002, 0.999, 1.001, 1.003, 1.000, 1.002, 0.999, 1.001, 1.000, 1.002, 1.004, 1.001, 0.999, 1.002, 1.000, 0.998],
  [1.000, 0.998, 0.995, 0.993, 0.995, 0.992, 0.994, 0.991, 0.993, 0.995, 0.992, 0.994, 0.991, 0.993, 0.995, 0.992, 0.994, 0.992, 0.990, 0.993, 0.991],
  [1.000, 1.000, 1.002, 0.999, 1.001, 0.998, 1.000, 0.997, 0.999, 1.001, 0.998, 1.000, 0.997, 0.999, 0.997, 1.000, 0.998, 1.001, 0.999, 1.002, 0.999],
  [1.000, 1.001, 1.003, 1.000, 1.002, 1.004, 1.001, 1.003, 1.000, 1.002, 1.005, 1.002, 1.004, 1.001, 1.003, 1.000, 1.002, 1.004, 1.001, 1.003, 1.001],
  [1.000, 0.997, 0.994, 0.996, 0.993, 0.995, 0.997, 0.994, 0.996, 0.993, 0.995, 0.992, 0.994, 0.996, 0.993, 0.995, 0.992, 0.994, 0.996, 0.993, 0.995],
  [1.000, 0.999, 1.000, 0.998, 1.000, 0.997, 0.999, 1.001, 0.998, 1.000, 0.997, 0.999, 1.001, 0.998, 1.000, 0.997, 0.999, 0.997, 1.000, 0.998, 0.996]
];

// cluster 9
const red9 = [1.0002, 0.9998, 0.9998, 0.9992, 1.001, 0.9978, 0.9973, 0.9956, 0.9945, 0.9963, 0.9975, 0.9963, 0.9963, 0.9963, 0.9966, 0.993, 0.986, 0.9895, 0.990, 0.990,
  0.9895, 0.990, 0.990, 0.9912, 0.990, 0.990, 0.990, 0.990, 0.990, 0.990, 0.990, 0.990, 0.990, 0.990, 0.9885, 0.990, 0.9905, 0.9913, 0.9912, 0.9928, 0.9975];
const grey9 = [
  [1.000, 1.004, 1.006, 1.008, 1.009, 1.005, 1.003, 1.001, 1.002, 1.000, 1.001, 0.999, 1.000, 1.002, 1.001, 1.003, 1.002, 1.004, 1.005, 1.006, 1.004],
  [1.000, 0.996, 0.992, 0.988, 0.985, 0.981, 0.984, 0.986, 0.984, 0.987, 0.985, 0.983, 0.986, 0.984, 0.986, 0.983, 0.985, 0.987, 0.984, 0.986, 0.985],
  [1.000, 0.998, 0.996, 0.993, 0.995, 0.992, 0.994, 0.991, 0.993, 0.990, 0.992, 0.994, 0.991, 0.993, 0.990, 0.992, 0.994, 0.991, 0.993, 0.995, 0.992],
  [1.000, 1.002, 1.000, 0.998, 0.999, 0.997, 0.998, 0.996, 0.998, 0.997, 0.995, 0.997, 0.999, 0.996, 0.998, 0.997, 0.999, 0.996, 0.998, 1.000, 0.997],
  [1.000, 0.997, 0.993, 0.990, 0.988, 0.990, 0.987, 0.989, 0.991, 0.988, 0.990, 0.987, 0.989, 0.991, 0.988, 0.990, 0.988, 0.989, 0.991, 0.989, 0.987],
  [1.000, 0.999, 0.998, 0.995, 0.996, 0.994, 0.995, 0.997, 0.995, 0.993, 0.995, 0.992, 0.994, 0.996, 0.993, 0.995, 0.997, 0.994, 0.996, 0.993, 0.995],
  [1.000, 0.998, 0.994, 0.991, 0.993, 0.990, 0.988, 0.990, 0.987, 0.989, 0.986, 0.988, 0.990, 0.987, 0.989, 0.986, 0.988, 0.990, 0.987, 0.989, 0.991],
  [1.000, 1.001, 0.999, 0.997, 0.995, 0.997, 0.994, 0.996, 0.993, 0.995, 0.997, 0.994, 0.996, 0.993, 0.995, 0.992, 0.994, 0.996, 0.993, 0.995, 0.992],
  [1.000, 0.997, 0.995, 0.992, 0.990, 0.987, 0.989, 0.986, 0.988, 0.985, 0.987, 0.989, 0.986, 0.988, 0.985, 0.987, 0.984, 0.986, 0.988, 0.985, 0.983]
];
const yellow9 = [
  [1.000, 1.003, 1.005, 1.004, 1.006, 1.005, 1.007, 1.009, 1.006, 1.004, 1.005, 1.003, 1.004, 1.002, 1.004, 1.003, 1.005, 1.003, 1.002, 1.000, 0.998],
  [1.000, 0.998, 0.995, 0.993, 0.991, 0.989, 0.988, 0.986, 0.988, 0.986, 0.984, 0.986, 0.983, 0.981, 0.984, 0.982, 0.984, 0.981, 0.983, 0.980, 0.979],
  [1.000, 1.001, 1.003, 1.002, 1.000, 1.002, 1.001, 0.999, 1.001, 1.000, 0.998, 1.000, 1.001, 0.999, 1.000, 0.998, 0.999, 0.997, 0.995, 0.993, 0.991],
  [1.000, 0.999, 0.997, 0.999, 0.996, 0.998, 0.996, 0.998, 0.995, 0.997, 0.995, 0.993, 0.995, 0.993, 0.991, 0.993, 0.991, 0.989, 0.987, 0.984, 0.982],
  [1.000, 1.002, 1.000, 1.003, 1.005, 1.003, 1.002, 1.004, 1.002, 1.000, 1.002, 1.001, 0.999, 1.001, 1.003, 1.001, 1.000, 0.998, 0.996, 0.994, 0.990],
  [1.000, 1.002, 1.004, 1.002, 1.000, 0.998, 1.000, 1.002, 0.999, 1.001, 0.999, 0.997, 0.999, 1.001, 0.998, 1.000, 0.998, 0.996, 0.998, 0.996, 0.993],
  [1.000, 0.999, 0.996, 0.994, 0.996, 0.993, 0.995, 0.992, 0.994, 0.991, 0.993, 0.990, 0.992, 0.989, 0.991, 0.988, 0.990, 0.987, 0.985, 0.987, 0.984]
];

// cluster 10
const red10 = [0.9996, 1.0024, 1.0022, 1.0022, 1.0022, 1.0022, 1.0022, 1.000, 1.0065, 1.009, 1.0065, 1.0065, 1.007, 1.0065, 1.010, 1.013, 1.013, 1.013, 1.013, 1.017,
  1.013, 1.013, 1.013, 1.013, 1.0132, 1.018, 1.0214, 1.026, 1.0214, 1.024, 1.0214, 1.015, 1.0289, 1.0258, 1.0258, 1.0291, 1.033, 1.029, 1.032, 1.024, 1.035];
const grey10 = [
  [1.000, 1.006, 1.015, 1.040, 1.058, 1.045, 1.049, 1.035, 1.045, 1.042, 1.044, 1.041, 1.043, 1.040, 1.042, 1.044, 1.041, 1.040, 1.043, 1.045, 1.050],
  [1.000, 1.004, 1.009, 1.016, 1.027, 1.030, 1.032, 1.034, 1.031, 1.033, 1.035, 1.036, 1.034, 1.037, 1.039, 1.037, 1.036, 1.038, 1.040, 1.041, 1.043],
  [1.000, 0.998, 0.997, 0.998, 1.004, 1.010, 1.015, 1.018, 1.020, 1.022, 1.024, 1.023, 1.025, 1.027, 1.029, 1.030, 1.032, 1.033, 1.031, 1.033, 1.035],
  [1.000, 1.002, 1.005, 1.010, 1.013, 1.016, 1.018, 1.020, 1.019, 1.021, 1.020, 1.022, 1.019, 1.021, 1.023, 1.025, 1.024, 1.026, 1.028, 1.027, 1.029],
  [1.000, 0.997, 0.996, 0.997, 0.998, 1.000, 0.998, 1.002, 1.004, 1.006, 1.008, 1.007, 1.010, 1.012, 1.015, 1.017, 1.019, 1.021, 1.023, 1.026, 1.028],
  [1.000, 1.003, 1.008, 1.014, 1.020, 1.024, 1.026, 1.025, 1.027, 1.029, 1.028, 1.030, 1.029, 1.031, 1.033, 1.032, 1.034, 1.036, 1.035, 1.037, 1.039],
  [1.000, 0.999, 1.001, 1.004, 1.007, 1.009, 1.012, 1.011, 1.013, 1.015, 1.014, 1.016, 1.018, 1.020, 1.019, 1.021, 1.023, 1.025, 1.027, 1.029, 1.031]
];
const yellow10 = [
  [1.000, 1.003, 1.006, 1.010, 1.036, 1.022, 1.014, 1.016, 1.015, 1.017, 1.019, 1.021, 1.023, 1.026, 1.028, 1.030, 1.031, 1.033, 1.035, 1.037, 1.038],
  [1.000, 0.995, 0.998, 1.001, 1.003, 1.005, 1.007, 1.009, 1.011, 1.013, 1.015, 1.017, 1.019, 1.021, 1.022, 1.024, 1.026, 1.027, 1.029, 1.031, 1.033],
  [1.000, 0.998, 1.000, 0.999, 1.001, 1.000, 1.002, 1.001, 1.003, 1.004, 1.006, 1.005, 1.007, 1.009, 1.011, 1.013, 1.015, 1.017, 1.020, 1.023, 1.025],
  [1.000, 1.002, 1.004, 1.008, 1.012, 1.015, 1.013, 1.017, 1.019, 1.018, 1.020, 1.022, 1.024, 1.023, 1.025, 1.027, 1.026, 1.028, 1.030, 1.032, 1.034],
  [1.000, 0.999, 1.002, 1.004, 1.006, 1.008, 1.007, 1.009, 1.008, 1.010, 1.012, 1.011, 1.013, 1.015, 1.017, 1.016, 1.018, 1.021, 1.024, 1.028, 1.030],
  [1.000, 1.001, 1.003, 1.006, 1.009, 1.011, 1.010, 1.012, 1.014, 1.013, 1.015, 1.017, 1.016, 1.018, 1.020, 1.019, 1.021, 1.023, 1.026, 1.025, 1.027],
  [1.000, 0.997, 0.999, 1.000, 1.002, 1.003, 1.005, 1.004, 1.006, 1.008, 1.007, 1.009, 1.011, 1.010, 1.012, 1.014, 1.016, 1.019, 1.022, 1.025, 1.029]
];

// cluster 11
const red11 = [1.000, 1.0005, 1.000, 1.000, 1.000, 1.000, 1.000, 0.9995, 0.9993, 0.9998, 0.9998, 0.9975, 0.9998, 0.9998, 0.9998, 0.9998, 0.9998, 0.9998, 0.9998, 1.0005,
  0.9998, 1.0008, 1.0021, 1.0015, 1.0015, 1.0015, 1.004, 1.0028, 1.0024, 1.0024, 1.000, 1.0025, 1.0025, 1.0045, 1.0045, 1.0048, 1.0062, 1.0095, 1.0055, 1.0025, 1.0075];
const grey11 = [
  [1.000, 1.004, 1.009, 1.012, 1.015, 1.010, 1.008, 1.011, 1.009, 1.007, 1.010, 1.008, 1.011, 1.009, 1.012, 1.010, 1.008, 1.011, 1.014, 1.016, 1.016],
  [1.000, 0.997, 0.994, 0.996, 0.993, 0.995, 0.992, 0.994, 0.996, 0.993, 0.995, 0.997, 0.994, 0.996, 0.994, 0.996, 0.998, 0.995, 0.997, 0.999, 1.001],
  [1.000, 1.002, 1.005, 1.003, 1.006, 1.004, 1.007, 1.005, 1.003, 1.006, 1.004, 1.007, 1.005, 1.008, 1.006, 1.004, 1.007, 1.009, 1.007, 1.010, 1.008],
  [1.000, 0.999, 1.001, 0.998, 1.000, 1.002, 0.999, 1.001, 0.998, 1.000, 1.002, 1.000, 0.998, 1.001, 0.999, 1.002, 1.000, 1.003, 1.001, 1.004, 1.002],
  [1.000, 1.001, 1.003, 1.006, 1.004, 1.007, 1.010, 1.012, 1.009, 1.011, 1.008, 1.010, 1.007, 1.009, 1.006, 1.008, 1.005, 1.007, 1.009, 1.006, 1.004],
  [1.000, 0.998, 0.995, 0.997, 0.996, 0.998, 0.997, 0.999, 1.001, 0.998, 1.000, 0.997, 0.999, 1.001, 1.003, 1.000, 1.002, 0.999, 1.001, 0.998, 0.996],
  [1.000, 1.003, 1.006, 1.004, 1.007, 1.009, 1.007, 1.010, 1.008, 1.006, 1.009, 1.007, 1.005, 1.008, 1.006, 1.009, 1.007, 1.010, 1.008, 1.011, 1.009],
  [1.000, 0.998, 1.000, 0.997, 0.995, 0.997, 0.999, 0.996, 0.998, 0.995, 0.997, 0.999, 0.997, 0.999, 1.001, 0.998, 1.000, 1.002, 0.999, 1.001, 1.003]
];
const yellow11 = [
  [1.000, 1.011, 1.008, 1.006, 1.009, 1.007, 1.010, 1.008, 1.011, 1.009, 1.012, 1.010, 1.008, 1.011, 1.009, 1.012, 1.013, 1.010, 1.008, 1.011, 1.018],
  [1.000, 0.998, 0.996, 0.999, 0.997, 1.000, 0.998, 0.996, 0.999, 0.997, 0.995, 0.998, 0.996, 0.999, 0.997, 0.995, 0.998, 0.996, 0.999, 0.997, 0.999],
  [1.000, 1.002, 1.004, 1.002, 1.005, 1.003, 1.001, 1.004, 1.002, 1.005, 1.003, 1.006, 1.004, 1.002, 1.005, 1.003, 1.006, 1.004, 1.007, 1.005, 1.003],
  [1.000, 1.001, 0.999, 1.001, 1.003, 1.001, 1.003, 1.000, 1.002, 1.000, 1.002, 0.999, 1.001, 1.003, 1.001, 0.999, 1.002, 1.000, 1.003, 1.001, 1.004],
  [1.000, 0.997, 0.995, 0.994, 0.996, 0.994, 0.996, 0.998, 0.995, 0.997, 0.995, 0.997, 0.999, 0.996, 0.998, 0.996, 0.994, 0.997, 0.995, 0.998, 0.996],
  [1.000, 1.003, 1.005, 1.007, 1.005, 1.008, 1.006, 1.004, 1.007, 1.005, 1.008, 1.006, 1.009, 1.007, 1.005, 1.008, 1.010, 1.008, 1.006, 1.009, 1.007],
  [1.000, 0.999, 1.001, 0.998, 1.000, 0.998, 1.000, 1.002, 1.000, 0.998, 1.001, 0.999, 1.001, 0.999, 1.002, 1.000, 0.998, 1.000, 0.998, 1.001, 0.999]
];

// cluster 12
const red12 = [1.0009, 0.999, 1.004, 0.996, 0.9929, 0.991, 0.9862, 0.9857, 0.9857, 0.983, 0.9857, 0.9857, 0.987, 0.984, 0.9857, 0.9857, 0.9857, 0.9857, 0.9857, 0.991,
  0.9858, 0.9858, 0.9858, 0.9858, 0.9858, 0.985, 0.981, 0.979, 0.979, 0.979, 0.976, 0.979, 0.979, 0.9775, 0.9802, 0.9802, 0.9802, 0.9835, 0.9808, 0.9808, 0.9845];
const grey12 = [
  [1.000, 0.997, 0.992, 0.988, 0.985, 0.982, 0.980, 0.976, 0.971, 0.962, 0.957, 0.965, 0.972, 0.975, 0.973, 0.970, 0.968, 0.970, 0.967, 0.965, 0.968],
  [1.000, 1.002, 1.004, 1.006, 1.007, 1.003, 1.005, 1.003, 1.001, 1.002, 1.004, 1.001, 0.999, 0.997, 0.995, 0.993, 0.991, 0.988, 0.986, 0.990, 0.993],
  [1.000, 0.997, 0.994, 0.989, 0.985, 0.983, 0.981, 0.982, 0.980, 0.978, 0.980, 0.979, 0.977, 0.979, 0.976, 0.978, 0.975, 0.977, 0.974, 0.976, 0.978],
  [1.000, 0.999, 0.996, 0.993, 0.990, 0.988, 0.986, 0.984, 0.986, 0.983, 0.985, 0.982, 0.984, 0.981, 0.983, 0.980, 0.982, 0.979, 0.981, 0.978, 0.980],
  [1.000, 0.998, 0.995, 0.991, 0.988, 0.985, 0.982, 0.979, 0.976, 0.978, 0.975, 0.973, 0.976, 0.978, 0.980, 0.982, 0.979, 0.977, 0.974, 0.963, 0.970],
  [1.000, 0.996, 0.992, 0.987, 0.983, 0.981, 0.983, 0.980, 0.982, 0.979, 0.981, 0.978, 0.980, 0.977, 0.979, 0.976, 0.973, 0.975, 0.972, 0.974, 0.971],
  [1.000, 0.999, 0.997, 0.994, 0.991, 0.989, 0.987, 0.989, 0.986, 0.984, 0.986, 0.983, 0.985, 0.982, 0.984, 0.981, 0.983, 0.980, 0.982, 0.985, 0.988]
];
const yellow12 = [
  [1.000, 1.003, 1.006, 1.008, 1.010, 1.007, 1.005, 1.003, 1.004, 1.002, 1.003, 1.000, 1.001, 0.999, 0.997, 0.995, 1.016, 0.997, 0.992, 0.988, 0.985],
  [1.000, 0.989, 0.985, 0.979, 0.972, 0.975, 0.978, 0.983, 0.986, 0.984, 0.986, 0.985, 0.984, 0.986, 0.983, 0.981, 0.983, 0.980, 0.978, 0.975, 0.976],
  [1.000, 0.999, 0.997, 0.995, 0.997, 0.994, 0.996, 0.993, 0.995, 0.992, 0.994, 0.991, 0.993, 0.990, 0.992, 0.989, 0.987, 0.985, 0.983, 0.981, 0.979],
  [1.000, 1.001, 1.003, 1.000, 1.002, 0.999, 1.001, 0.998, 1.000, 0.997, 0.999, 0.996, 0.994, 0.996, 0.993, 0.991, 0.993, 0.990, 0.987, 0.985, 0.983],
  [1.000, 0.996, 0.993, 0.990, 0.988, 0.991, 0.989, 0.992, 0.990, 0.987, 0.989, 0.986, 0.988, 0.985, 0.987, 0.984, 0.982, 0.979, 0.977, 0.975, 0.978],
  [1.000, 1.002, 0.998, 1.001, 0.997, 0.999, 0.996, 0.998, 0.995, 0.997, 0.994, 0.996, 0.993, 0.995, 0.992, 0.994, 0.991, 0.988, 0.986, 0.983, 0.985],
  [1.000, 1.002, 1.001, 0.999, 1.001, 0.998, 1.000, 0.997, 0.999, 0.996, 0.998, 0.995, 0.997, 0.994, 0.996, 0.993, 0.991, 0.993, 0.990, 0.988, 0.990],
  [1.000, 0.997, 0.995, 0.993, 0.995, 0.992, 0.994, 0.991, 0.993, 0.990, 0.992, 0.989, 0.991, 0.988, 0.990, 0.987, 0.985, 0.983, 0.985, 0.982, 0.980]
];

// cluster 13
const red13 = [1.000, 1.000, 1.0003, 1.0003, 1.0003, 1.002, 0.9995, 1.0015, 1.0003, 1.0003, 0.9965, 0.9975, 0.9963, 0.995, 0.990, 0.9945, 0.9955, 0.9975, 0.9965, 0.999,
  0.9995, 1.003, 1.000, 1.000, 1.000, 1.000, 1.000, 1.000, 0.996, 1.000, 1.000, 1.000, 1.000, 0.999, 1.0005, 1.0035, 1.0054, 1.0085, 1.0076, 1.010, 1.013];
const grey13 = [
  [1.000, 1.002, 1.004, 1.007, 1.005, 1.008, 1.010, 1.013, 1.009, 1.008, 1.007, 1.009, 1.008, 1.007, 1.006, 1.008, 1.010, 1.012, 1.014, 1.017, 1.019],
  [1.000, 0.997, 0.992, 0.989, 0.984, 0.987, 0.989, 0.991, 0.993, 0.990, 0.992, 0.994, 0.991, 0.988, 0.986, 0.983, 0.988, 0.991, 0.994, 0.997, 1.000],
  [1.000, 0.999, 0.997, 0.995, 0.996, 0.994, 0.996, 0.998, 0.995, 0.997, 0.999, 0.996, 0.998, 1.000, 0.997, 0.999, 1.002, 1.004, 1.006, 1.009, 1.012],
  [1.000, 1.003, 1.001, 1.004, 1.002, 1.005, 1.003, 1.006, 1.004, 1.002, 1.005, 1.003, 1.006, 1.004, 1.007, 1.005, 1.008, 1.010, 1.007, 1.011, 1.014],
  [1.000, 0.996, 0.994, 0.991, 0.993, 0.990, 0.988, 0.991, 0.989, 0.987, 0.990, 0.992, 0.990, 0.988, 0.991, 0.993, 0.990, 0.992, 0.995, 0.998, 1.004],
  [1.000, 0.998, 0.999, 0.997, 0.999, 0.996, 0.994, 0.996, 0.993, 0.995, 0.997, 0.994, 0.996, 0.993, 0.995, 0.992, 0.994, 0.997, 0.999, 1.002, 1.006],
  [1.000, 0.998, 0.995, 0.993, 0.991, 0.993, 0.991, 0.989, 0.992, 0.990, 0.988, 0.991, 0.989, 0.987, 0.990, 0.988, 0.991, 0.994, 0.997, 1.001, 1.004],
  [1.000, 1.001, 1.003, 1.001, 0.999, 1.002, 1.000, 1.003, 1.001, 0.999, 1.002, 1.000, 1.003, 1.001, 1.004, 1.002, 1.005, 1.008, 1.011, 1.009, 1.012]
];
const yellow13 = [
  [1.000, 1.004, 1.007, 1.011, 1.015, 1.008, 1.006, 1.004, 1.006, 1.003, 1.005, 1.007, 1.019, 1.014, 1.010, 1.008, 1.011, 1.014, 1.023, 1.018, 1.020],
  [1.000, 0.993, 0.986, 0.990, 0.988, 0.991, 0.989, 0.987, 0.990, 0.992, 0.990, 0.988, 0.991, 0.993, 0.991, 0.989, 0.987, 0.985, 0.990, 0.995, 0.998],
  [1.000, 1.001, 0.999, 1.002, 1.000, 0.998, 1.001, 0.999, 1.002, 1.000, 1.003, 1.001, 0.999, 1.002, 1.000, 1.003, 1.005, 1.008, 1.012, 1.010, 1.008],
  [1.000, 0.998, 0.995, 0.997, 0.994, 0.996, 0.993, 0.995, 0.992, 0.994, 0.996, 0.993, 0.995, 0.997, 0.994, 0.996, 0.999, 1.002, 1.005, 1.003, 1.006],
  [1.000, 1.002, 1.004, 1.001, 1.003, 1.006, 1.003, 1.001, 1.004, 1.002, 1.000, 1.003, 1.001, 1.004, 1.002, 1.005, 1.008, 1.011, 1.015, 1.013, 1.016],
  [1.000, 0.997, 0.995, 0.993, 0.991, 0.993, 0.995, 0.992, 0.994, 0.991, 0.993, 0.995, 0.992, 0.994, 0.991, 0.993, 0.996, 0.998, 1.001, 1.004, 1.002],
  [1.000, 1.003, 1.001, 1.004, 1.002, 1.000, 1.003, 1.001, 0.998, 1.001, 0.999, 1.002, 1.000, 1.003, 1.001, 1.004, 1.007, 1.005, 1.009, 1.007, 1.011]
];

// cluster 14 (sparse, fine grid)
const red14 = [1.0006, 0.9983, 0.9965, 0.9944, 0.995, 0.9935, 0.9856, 0.988, 0.9865, 0.983, 0.983, 0.983, 0.9797, 0.9746, 0.9746, 0.9746, 0.9713, 0.9713, 0.960, 0.968,
  0.961, 0.9594, 0.9532, 0.9521, 0.9521, 0.951, 0.951, 0.951, 0.953, 0.9538, 0.9538, 0.9493, 0.9493, 0.9493, 0.938, 0.947, 0.947, 0.947, 0.947, 0.947, 0.953];
const grey14 = [
  [1.0017, 1.002, 1.002, 1.0022, 1.0005, 0.999, 0.9995, 0.9978, 0.990, 0.981, 0.9825, 0.9835, 0.9838, 0.9842, 0.984, 0.980, 0.976, 0.9725, 0.9718, 0.972,
    0.970, 0.965, 0.964, 0.9635, 0.962, 0.9625, 0.9635, 0.964, 0.9656, 0.963, 0.964, 0.9645, 0.9625, 0.961, 0.959, 0.957, 0.9555, 0.9525, 0.956, 0.9605, 0.960],
  [1.001, 1.0015, 1.0018, 1.000, 0.9962, 0.9975, 0.999, 0.9975, 0.986, 0.972, 0.958, 0.973, 0.974, 0.9745, 0.9745, 0.9735, 0.968, 0.960, 0.9575, 0.9625,
    0.9632, 0.963, 0.9615, 0.9598, 0.9595, 0.957, 0.9545, 0.9515, 0.948, 0.9475, 0.953, 0.9545, 0.9525, 0.951, 0.948, 0.9445, 0.933, 0.939, 0.9425, 0.945, 0.9436]
];
const yellow14 = [];

// cluster 15
const red15 = [1.000, 1.008, 0.9998, 0.9985, 0.9986, 0.9986, 0.9986, 0.9986, 0.9986, 0.9986, 0.9986, 0.999, 0.9946, 0.9946, 0.990, 0.9925, 0.9935, 0.992, 0.996, 0.994,
  0.9759, 0.9759, 0.973, 0.9775, 0.9775, 0.983, 0.979, 0.979, 0.983, 0.981, 0.9852, 0.988, 0.9887, 0.993, 0.9868, 0.9868, 0.990, 0.996, 1.011, 1.003, 1.010];
const grey15 = [
  [1.000, 0.975, 0.996, 0.971, 0.995, 0.985, 0.996, 0.974, 0.994, 0.980, 0.997, 0.972, 0.993, 0.982, 0.996, 0.976, 0.991, 0.970, 0.989, 0.978,
    0.992, 0.969, 0.988, 0.975, 0.990, 0.972, 0.993, 0.979, 0.995, 0.984, 0.997, 0.986, 0.999, 0.988, 1.003, 0.995, 1.010, 1.005, 1.016, 1.012, 1.017],
  [1.000, 0.990, 0.978, 0.993, 0.970, 0.992, 0.975, 0.996, 0.969, 0.990, 0.978, 0.994, 0.972, 0.988, 0.968, 0.985, 0.974, 0.992, 0.977, 0.987,
    0.971, 0.983, 0.976, 0.991, 0.979, 0.994, 0.981, 0.996, 0.985, 0.993, 0.988, 0.998, 0.992, 1.001, 0.994, 1.008, 0.998, 1.014, 1.004, 1.016, 1.009],
  [1.000, 0.996, 0.985, 0.990, 0.982, 0.988, 0.979, 0.986, 0.977, 0.984, 0.975, 0.982, 0.973, 0.979, 0.972, 0.976, 0.970, 0.975, 0.971, 0.977,
    0.973, 0.979, 0.976, 0.982, 0.978, 0.985, 0.982, 0.988, 0.984, 0.990, 0.987, 0.992, 0.990, 0.994, 0.992, 0.996, 0.995, 0.998, 0.997, 0.999, 0.998]
];
const yellow15 = [
  [1.000, 1.013, 1.013, 1.012, 1.010, 1.005, 1.003, 0.998, 0.994, 0.990, 0.992, 0.990, 0.993, 0.992, 0.994, 0.996, 1.000, 1.008, 1.015, 1.017, 1.018],
  [1.000, 0.998, 0.994, 0.990, 0.987, 0.985, 0.983, 0.980, 0.977, 0.974, 0.976, 0.974, 0.972, 0.974, 0.979, 0.984, 0.990, 0.996, 1.004, 1.008, 1.010],
  [1.000, 0.999, 0.996, 0.992, 0.988, 0.991, 0.993, 0.996, 0.997, 0.995, 0.986, 0.983, 0.987, 0.985, 0.983, 0.986, 0.988, 0.991, 0.994, 0.997, 0.996],
  [1.000, 0.997, 0.993, 0.987, 0.982, 0.985, 0.988, 0.990, 0.992, 0.989, 0.979, 0.973, 0.975, 0.974, 0.976, 0.980, 0.985, 0.993, 1.000, 1.005, 1.012]
];

// bootstrap intervals shown next to each panel
const boxParam = ['HDD', 'HDD', 'HDD', 'CDD', 'CDD', 'CDD'];
const boxFe = ['Delta_Full', 'Delta_Sub', 'Sum_Value', 'Delta_Full', 'Delta_Sub', 'Sum_Value'];
const panelCi = [
  ['[-1.47, 1.11]', '[-0.16, 1.77]', '[225.9, 280.26]', '[-0.24, 0.27]', '[-0.31, 0.08]', '[23.65, 41.28]'],
  ['[-2.09, 0.72]', '[-1.53, 0.57]', '[184.25, 250.94]', '[0.06, 0.69]', '[0.14, 0.65]', '[37.81, 61.45]'],
  ['[0.3, 5.42]', '[0.64, 4.45]', '[157.43, 279.57]', '[-0.6, 0.55]', '[-0.42, 0.52]', '[36.56, 80.99]'],
  ['[-0.02, 3.65]', '[0.27, 3.02]', '[176.42, 275.44]', '[-1.14, -0.19]', '[-0.92, -0.2]', '[28.68, 58.56]'],
  ['[3.2, 3.2]', '[6.04, 6.04]', '[363.6, 363.6]', '[0.4, 0.4]', '[0.21, 0.21]', '[4.16, 4.16]'],
  ['[-1.44, 0.34]', '[-0.95, 0.53]', '[127.46, 176.32]', '[-0.22, 0.43]', '[-0.05, 0.48]', '[58.86, 78.9]'],
  ['[-12.16, 19.74]', '[0.24, 14.26]', '[61.88, 577.36]', '[-2.61, 0.64]', '[-3.23, 0.48]', '[-5.0, 40.66]'],
  ['[-5.83, -0.66]', '[-5.05, -0.4]', '[173.38, 292.94]', '[-0.59, 0.63]', '[-0.51, 0.41]', '[25.71, 73.35]'],
  ['[-0.88, 1.05]', '[-0.56, 1.13]', '[156.46, 213.46]', '[-0.56, 0.11]', '[-0.39, 0.1]', '[51.04, 72.99]'],
  ['[-1.46, 1.04]', '[-0.76, 1.16]', '[212.41, 275.46]', '[-0.2, 0.51]', '[-0.22, 0.34]', '[30.76, 53.66]'],
  ['[-0.76, 3.59]', '[-0.89, 2.77]', '[139.17, 286.77]', '[-1.11, 0.65]', '[-0.65, 0.48]', '[38.73, 96.96]'],
  ['[-1.18, 0.31]', '[-0.73, 0.49]', '[140.75, 187.9]', '[-0.08, 0.52]', '[-0.05, 0.44]', '[58.6, 77.31]'],
  ['[-2.87, 1.07]', '[-1.29, 1.92]', '[238.34, 353.43]', '[-0.59, 0.34]', '[-0.41, 0.3]', '[19.38, 53.21]'],
  ['[-3.6, 0.36]', '[-2.27, 0.72]', '[185.09, 284.83]', '[-0.04, 1.05]', '[0.08, 0.81]', '[27.23, 57.79]'],
  ['[0.4, 0.4]', '[-2.56, -2.56]', '[538.87, 538.87]', '[-0.07, -0.07]', '[-0.07, -0.07]', '[0.71, 0.71]'],
  ['[-4.87, 2.82]', '[-3.97, 4.35]', '[170.66, 386.51]', '[-0.45, 0.44]', '[-0.68, 0.21]', '[6.28, 25.05]']
];

const reds = [red0, red1, red2, red3, red4, red5, red6, red7, red8, red9, red10, red11, red12, red13, red14, red15];
const greys = [grey0, grey1, grey2, grey3, grey4, grey5, grey6, grey7, grey8, grey9, grey10, grey11, grey12, grey13, grey14, grey15];
const yellows = [yellow0, yellow1, yellow2, yellow3, yellow4, yellow5, yellow6, yellow7, yellow8, yellow9, yellow10, yellow11, yellow12, yellow13, yellow14, yellow15];

// layout (page pixels)
const GREY = '#b3cccc';
const YELLOW = '#fdf098';
const RED = '#ff0000';
const colLeft = [158, 1149, 2140, 3131];
const rowTop = [62.5, 1053.5, 2044.5, 3035.5];
const plotW = 515;
const plotH = 833.5;
const xMin = 0.149;
const xMax = 6.771;

Chart.defaults.font.family = "'DejaVu Sans', sans-serif";
Chart.defaults.color = '#000';

function toPts(vals) {
  const t = vals.length === tRed.length ? tRed : tBg;
  return vals.map((v, i) => ({ x: t[i], y: v })).filter(pt => pt.x !== undefined);
}

// matplotlib style closed frame
const framePlugin = {
  id: 'frame',
  afterDraw(chart) {
    const { ctx, chartArea: a } = chart;
    ctx.save();
    ctx.strokeStyle = '#000';
    ctx.lineWidth = 2.2;
    ctx.strokeRect(a.left, a.top, a.right - a.left, a.bottom - a.top);
    ctx.restore();
  }
};

function buildConfig(p) {
  const datasets = [{ data: toPts(reds[p]), borderColor: RED, borderWidth: 4.4 }];
  const n = Math.max(greys[p].length, yellows[p].length);
  for (let i = 0; i < n; i++) {
    if (greys[p][i]) datasets.push({ data: toPts(greys[p][i]), borderColor: GREY, borderWidth: 6 });
    if (yellows[p][i]) datasets.push({ data: toPts(yellows[p][i]), borderColor: YELLOW, borderWidth: 6 });
  }
  const tickGrid = { display: true, drawOnChartArea: false, drawTicks: true, tickLength: 9.6, tickWidth: 2.2, tickColor: '#000', lineWidth: 2.2, color: '#000' };
  return {
    type: 'line',
    data: { datasets },
    options: {
      responsive: false,
      maintainAspectRatio: false,
      animation: false,
      events: [],
      elements: {
        point: { radius: 0 },
        line: { tension: 0, fill: false, borderJoinStyle: 'round', borderCapStyle: 'round' }
      },
      layout: { padding: 0 },
      plugins: { legend: { display: false }, tooltip: { enabled: false }, title: { display: false } },
      scales: {
        x: {
          type: 'linear',
          min: xMin,
          max: xMax,
          afterBuildTicks: s => { s.ticks = xTickVals.map(v => ({ value: v })); },
          ticks: { autoSkip: false, maxRotation: 0, minRotation: 0, padding: 8, color: '#000', font: { size: 27.5 }, callback: (v, i) => xTickLabels[i] },
          grid: tickGrid,
          border: { display: false },
          title: { display: true, text: 'Time', color: '#000', font: { size: 27.5 }, padding: { top: 0, bottom: 0 } }
        },
        y: {
          type: 'linear',
          min: yMin[p],
          max: yMax[p],
          afterBuildTicks: s => { s.ticks = yTicks[p].map(v => ({ value: Number(v) })); },
          ticks: { autoSkip: false, padding: 10, color: '#000', font: { size: 27.5 }, callback: (v, i) => yTicks[p][i] },
          grid: tickGrid,
          border: { display: false },
          title: { display: true, text: 'normal_vmap', color: '#000', font: { size: 27.5 }, padding: { top: 0, bottom: 0 } }
        }
      }
    },
    plugins: [framePlugin]
  };
}

const fig = document.getElementById('fig');

for (let p = 0; p < 16; p++) {
  const bx = colLeft[p % 4];
  const by = rowTop[Math.floor(p / 4)];

  // first pass to learn the axis sizes, second pass at the size that gives the wanted plot box
  const cv = document.createElement('canvas');
  cv.width = 760;
  cv.height = 1040;
  fig.appendChild(cv);
  let chart = new Chart(cv, buildConfig(p));
  let a = chart.chartArea;
  const w = Math.round(760 + plotW - (a.right - a.left));
  const h = Math.round(1040 + plotH - (a.bottom - a.top));
  chart.destroy();
  cv.width = w;
  cv.height = h;
  chart = new Chart(cv, buildConfig(p));
  a = chart.chartArea;
  cv.style.left = (bx - a.left) + 'px';
  cv.style.top = (by - a.top) + 'px';

  const ttl = document.createElement('div');
  ttl.className = 'ttl';
  ttl.style.left = bx + 'px';
  ttl.style.width = plotW + 'px';
  ttl.style.top = (by - 48) + 'px';
  ttl.textContent = 'Cluster ' + p;
  fig.appendChild(ttl);

  for (let i = 0; i < 6; i++) {
    const b = document.createElement('div');
    b.className = 'box';
    b.style.left = (bx + plotW + 19) + 'px';
    b.style.top = (by + 111 + i * 125.3) + 'px';
    b.textContent = 'Param: ' + boxParam[i] + '\nfe: ' + boxFe[i] + '\nci: ' + panelCi[p][i];
    fig.appendChild(b);
  }
}
</script>
</body>
</html>
